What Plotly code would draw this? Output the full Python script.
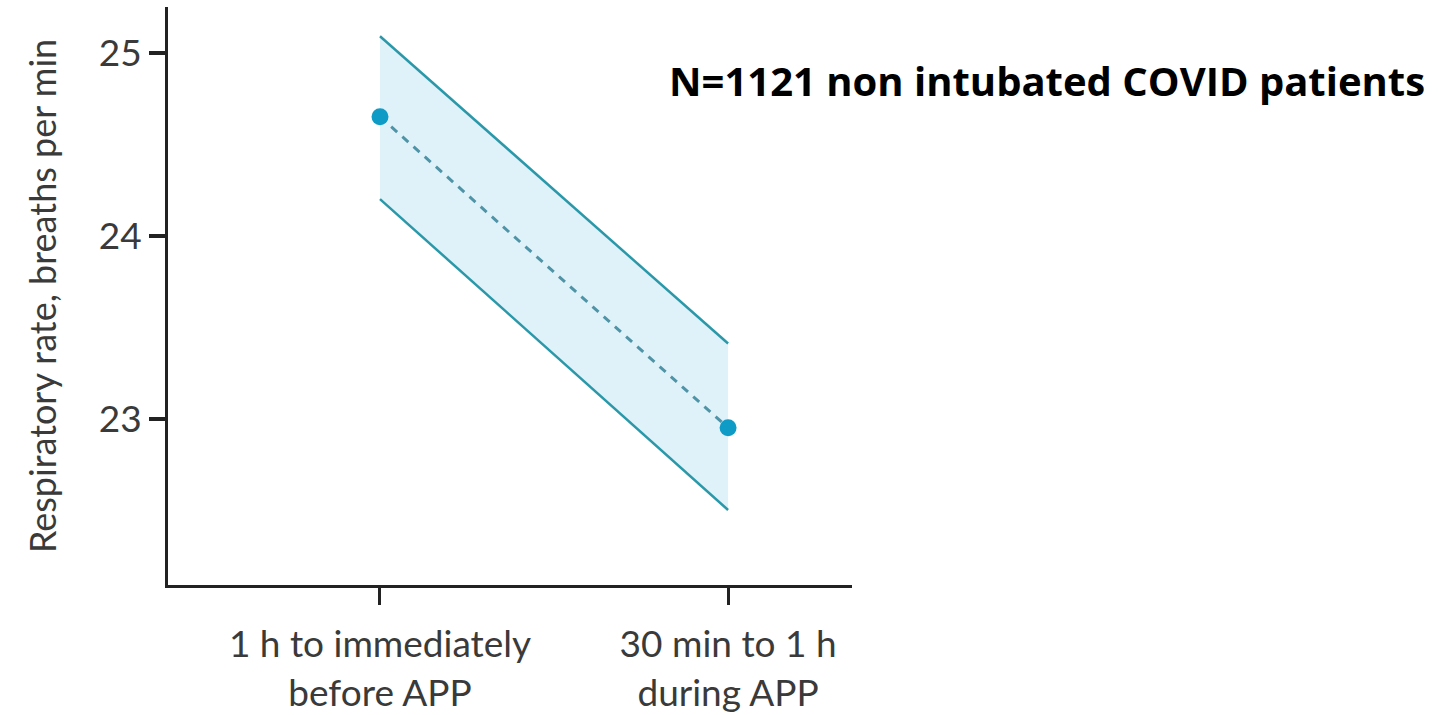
import plotly.graph_objects as go

# Data
categories = ["1 h to immediately<br>before APP", "30 min to 1 h<br>during APP"]
x_pos = [0, 1]
mean_rr = [24.65, 22.95]
upper_ci = [25.09, 23.41]
lower_ci = [24.20, 22.50]
y_ticks = [23, 24, 25]

line_col = "#2a98a8"
fill_col = "rgba(214,238,247,0.75)"
marker_col = "#0e9bc6"
dash_col = "#4f94a6"
text_col = "#3a3a3a"
axis_font = "Lato, Liberation Sans, Arial, sans-serif"

fig = go.Figure()
fig.add_trace(go.Scatter(x=x_pos, y=upper_ci, mode="lines",
                         line=dict(color=line_col, width=2.5), showlegend=False, hoverinfo="skip"))
fig.add_trace(go.Scatter(x=x_pos, y=lower_ci, mode="lines", fill="tonexty", fillcolor=fill_col,
                         line=dict(color=line_col, width=2.5), showlegend=False, hoverinfo="skip"))
fig.add_trace(go.Scatter(x=x_pos, y=mean_rr, mode="lines",
                         line=dict(color=dash_col, width=3, dash="8px,7px"), showlegend=False))
fig.add_trace(go.Scatter(x=x_pos, y=mean_rr, mode="markers",
                         marker=dict(color=marker_col, size=17), showlegend=False))

fig.add_annotation(text="<b>N=1121 non intubated COVID patients</b>", xref="paper", yref="paper",
                   x=(667 - 168) / (852 - 168), y=(585 - 80) / (585 - 7), xanchor="left", yanchor="middle",
                   showarrow=False, font=dict(family="Open Sans, Liberation Sans, Arial", size=40, color="#000000"))

fig.update_layout(
    width=1453, height=715,
    margin=dict(l=168, r=601, t=7, b=130, autoexpand=False),
    paper_bgcolor="white", plot_bgcolor="white",
    font=dict(family=axis_font, color=text_col, size=34),
)
fig.update_xaxes(range=[-0.609, 1.356], tickvals=x_pos, ticktext=categories, automargin=False,
                 showline=True, linecolor="#222222", linewidth=3, ticks="outside",
                 ticklen=17, tickwidth=3, tickcolor="#222222", showgrid=False, zeroline=False,
                 ticklabelstandoff=8,
                 tickfont=dict(size=37, color=text_col))
fig.update_yaxes(range=[22.09, 25.25], tickvals=y_ticks, ticktext=[str(v) for v in y_ticks], automargin=False,
                 showline=True, linecolor="#222222", linewidth=3, ticks="outside",
                 ticklen=16, tickwidth=4, tickcolor="#222222", showgrid=False, zeroline=False,
                 tickfont=dict(size=37, color=text_col),
                 title=dict(text="Respiratory rate, breaths per min", standoff=32,
                            font=dict(size=36, color=text_col)))

fig.write_html("out.html")
